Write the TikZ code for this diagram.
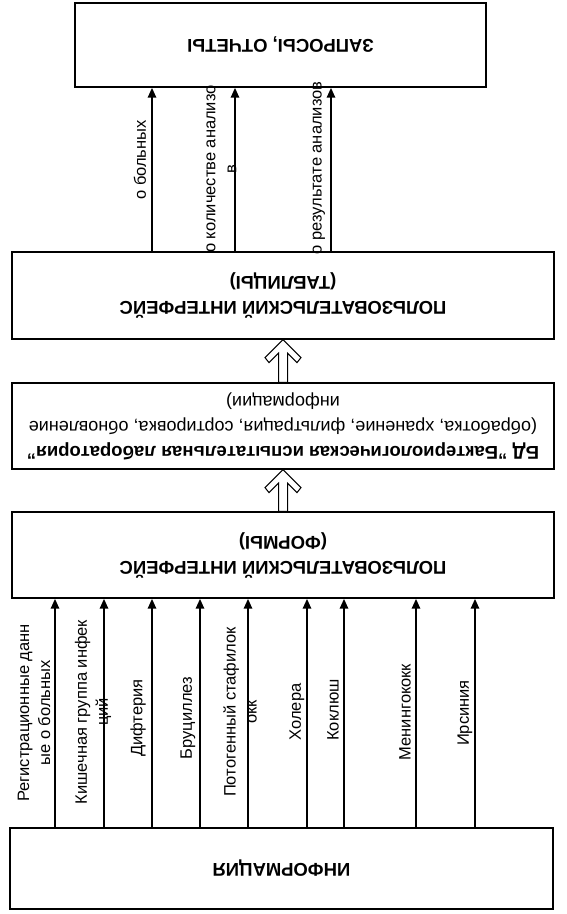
\documentclass[tikz,border=0pt]{standalone}
\usepackage{fontspec}
\setmainfont{Liberation Sans}
\usetikzlibrary{arrows.meta,calc}

\tikzset{
  box/.style={draw, line width=1.2pt, inner sep=0pt},
  boxtext/.style={rotate=180, align=center, font=\bfseries\fontsize{18.5}{25}\selectfont},
  flow/.style={line width=2.6pt, -{Triangle[width=8pt,length=10pt]}},
  lbl/.style={rotate=90, align=center, inner sep=0pt, font=\fontsize{16.5}{21}\selectfont},
  hollow/.style={line width=1pt, line join=miter}
}
\newcommand\plain[1]{{\mdseries\fontsize{18}{25}\selectfont #1}}

\begin{document}
\begin{tikzpicture}[x=1pt,y=-1pt]
\useasboundingbox (0,0) rectangle (567,914);
% blocks
\node[box, minimum width=411pt, minimum height=84pt] (b1) at (280.5,45) {};
\node[box, minimum width=542pt, minimum height=87pt] (b2) at (283,295.5) {};
\node[box, minimum width=542pt, minimum height=86pt] (b3) at (283,426) {};
\node[box, minimum width=542pt, minimum height=86pt] (b4) at (283,555) {};
\node[box, minimum width=543pt, minimum height=81pt] (b5) at (281.5,868.5) {};
\node[boxtext] (t1) at (b1) {ЗАПРОСЫ, ОТЧЕТЫ};
\node[boxtext] (t2) at (b2) {ПОЛЬЗОВАТЕЛЬСКИЙ ИНТЕРФЕЙС\\(ТАБЛИЦЫ)};
\node[boxtext] (t3) at (b3) {БД "Бактериологическая испытательная лаборатория"\\
  \plain{(обработка, хранение, фильтрация, сортировка, обновление}\\\plain{информации)}};
\node[boxtext] (t4) at (b4) {ПОЛЬЗОВАТЕЛЬСКИЙ ИНТЕРФЕЙС\\(ФОРМЫ)};
\node[boxtext] (t5) at (b5) {ИНФОРМАЦИЯ};
% hollow arrows
\foreach \a/\b in {b2/b3, b3/b4}
  \draw[hollow] (\a.south) -- ++(18,18) -- ++(-4,5) -- ++(-9.5,-9.5)
    -- ($(\b.north)+(4.5,0)$) -- ($(\b.north)+(-4.5,0)$)
    -- ($(\a.south)+(-4.5,13.5)$) -- ++(-9.5,9.5) -- ++(-4,-5) -- cycle;
% output arrows
\foreach \x in {152,235,331}
  \draw[flow] (b2.north -| \x,0) -- (b1.south -| \x,0);
\node[lbl] (m1) at (140,160) {о больных};
\node[lbl] (m2) at (221.5,169) {о количестве анализо\\в};
\node[lbl] (m3) at (319,168) {о результате анализов};
% input arrows
\foreach \x in {55,104,152,200,248,307,344,416,475}
  \draw[flow] (b5.north -| \x,0) -- (b4.south -| \x,0);
\node[lbl] (l1) at (34,713) {Регистрационные данн\\ые о больных};
\node[lbl] (l2) at (93,712) {Кишечная группа инфек\\ций};
\node[lbl] (l3) at (138,718) {Дифтерия};
\node[lbl] (l4) at (188,718) {Бруциллез};
\node[lbl] (l5) at (240,712) {Потогенный стафилок\\окк};
\node[lbl] (l6) at (297,712) {Холера};
\node[lbl] (l7) at (333,710) {Коклюш};
\node[lbl] (l8) at (405,712) {Менингококк};
\node[lbl] (l9) at (465,713) {Ирсиния};
\end{tikzpicture}
\end{document}
